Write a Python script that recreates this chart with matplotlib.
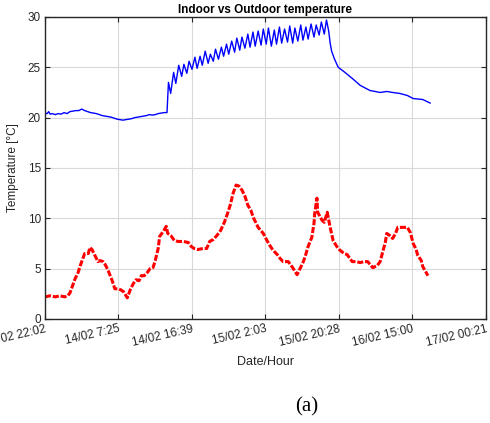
import numpy as np
import matplotlib
matplotlib.use("Agg")
import matplotlib.pyplot as plt

plt.rcParams['font.family'] = ['Liberation Sans', 'DejaVu Sans']

# ---------- data (x = sample index, ticks every 100 samples) ----------
tick_labels = ['13/02 22:02', '14/02 7:25', '14/02 16:39', '15/02 2:03',
               '15/02 20:28', '16/02 15:00', '17/02 00:21']
tick_pos = [0, 100, 200, 300, 400, 500, 600]

indoor_x = [0, 3, 5, 7, 10, 14, 18, 22, 26, 30, 34, 38, 42, 46, 50, 54, 58, 62,
            66, 70, 74, 78, 82, 86, 90, 94, 98, 102, 106, 110, 114, 118, 122,
            126, 130, 134, 138, 142, 146, 150, 154, 158, 162, 166,
            168, 171, 175, 178, 182, 186, 189, 193, 196, 200, 204, 207, 211,
            214, 218, 222, 225, 229, 232, 236, 240, 243, 247, 250, 254, 258,
            261, 265, 268, 272, 276, 279, 283, 286, 290, 294, 297, 301, 304,
            308, 312, 315, 319, 322, 326, 330, 333, 337, 340, 344, 348, 351,
            355, 358, 362, 366, 369, 373, 376, 380, 383, 386,
            388, 390, 394, 399, 408, 418, 429, 442, 456, 465, 473, 483, 493,
            501, 514, 524]
indoor_t = [20.45, 20.4, 20.6, 20.35, 20.4, 20.3, 20.4, 20.35, 20.5, 20.4, 20.6,
            20.65, 20.7, 20.7, 20.85, 20.7, 20.6, 20.5, 20.45, 20.4, 20.3, 20.2,
            20.15, 20.1, 20.05, 19.95, 19.85, 19.8, 19.75, 19.8, 19.85, 19.9,
            20.0, 20.05, 20.1, 20.15, 20.2, 20.3, 20.25, 20.3, 20.4, 20.45,
            20.5, 20.5,
            23.5, 22.4, 24.5, 23.4, 25.2, 24.1, 25.3, 24.4, 25.6, 24.8, 26.0,
            24.9, 26.1, 25.2, 26.6, 25.4, 26.3, 25.6, 26.8, 25.8, 27.0, 26.1,
            27.3, 26.3, 27.6, 26.5, 27.9, 26.7, 28.0, 26.9, 28.3, 27.0, 28.5,
            27.1, 28.6, 27.2, 28.8, 27.3, 28.9, 27.1, 28.7, 27.3, 29.0, 27.4,
            28.8, 27.5, 29.1, 27.4, 28.9, 27.6, 29.2, 27.7, 29.0, 27.8, 29.3,
            28.0, 29.2, 28.2, 29.5, 28.3, 29.7, 28.6,
            27.4, 26.6, 25.8, 25.0, 24.5, 23.9, 23.2, 22.7, 22.5, 22.6, 22.5,
            22.4, 22.2, 21.9, 21.8, 21.45]

outdoor_x = [0, 7, 14, 20, 27, 31, 34, 37, 41, 45, 48, 52, 54, 59, 61, 64, 68,
             72, 75, 79, 82, 86, 91, 95, 99, 103, 107, 112, 116, 120, 124, 128,
             131, 135, 139, 143, 147, 150, 154, 156, 161, 165, 167, 171, 176,
             181, 188, 195, 199, 203, 208, 215, 220, 224, 229, 234, 239, 244,
             248, 252, 256, 260, 264, 268, 272, 276, 280, 284, 290, 297, 302,
             306, 310, 316, 320, 324, 331, 337, 343, 347, 351, 354, 358, 363,
             366, 367, 370, 371, 377, 380, 384, 388, 392, 397, 401, 407, 411,
             418, 423, 429, 434, 439, 446, 452, 456, 460, 463, 465, 469, 473,
             477, 480, 486, 493, 497, 501, 505, 507, 512, 514, 518, 521]
outdoor_t = [2.2, 2.3, 2.2, 2.3, 2.2, 2.3, 2.6, 3.2, 4.0, 4.6, 5.3, 6.1, 6.5,
             6.5, 7.1, 6.9, 6.3, 5.7, 5.8, 5.7, 5.4, 4.8, 3.9, 3.0, 3.0, 2.9,
             2.7, 2.1, 2.9, 3.5, 3.9, 3.8, 4.3, 4.3, 4.6, 5.0, 5.1, 5.8, 7.0,
             8.2, 8.7, 9.2, 8.5, 8.3, 7.8, 7.7, 7.7, 7.6, 7.2, 7.0, 6.9, 7.0,
             7.0, 7.7, 7.9, 8.3, 8.8, 9.6, 10.4, 11.3, 12.5, 13.3, 13.2, 12.8,
             12.2, 11.3, 10.8, 10.0, 9.1, 8.5, 7.8, 7.3, 6.85, 6.4, 6.0, 5.7,
             5.7, 5.1, 4.4, 5.0, 5.6, 6.2, 7.2, 8.1, 9.5, 10.5, 12.0, 10.6,
             9.8, 9.6, 10.6, 9.1, 7.8, 7.2, 6.85, 6.5, 6.4, 5.7, 5.7, 5.6, 5.7,
             5.7, 5.1, 5.3, 5.7, 6.8, 7.6, 8.5, 8.3, 8.0, 8.5, 9.1, 9.1, 9.1,
             8.6, 7.5, 6.9, 6.35, 5.8, 5.2, 4.7, 4.3]

# ---------- plot ----------
fig = plt.figure(figsize=(4.9, 4.23), dpi=100)
ax = fig.add_axes([0.0918, 0.2459, 0.9, 0.714])

ax.plot(indoor_x, indoor_t, color=(0, 0, 1), linewidth=1.0)
ax.plot(outdoor_x, outdoor_t, color=(1, 0, 0), linewidth=2.2,
        linestyle=(0, (2.0, 0.6)))

ax.set_xlim(0, 600)
ax.set_ylim(0, 30)
ax.set_yticks(range(0, 31, 5))
ax.set_xticks(tick_pos)
ax.set_xticklabels(tick_labels, rotation=13, ha='right',
                   rotation_mode='anchor')
ax.grid(True, color=(0.85, 0.85, 0.85), linewidth=0.8)
ax.set_axisbelow(True)
ax.tick_params(direction='in', length=3.5, width=0.8, labelsize=8.5,
               colors=(0.15, 0.15, 0.15), top=True, right=True, pad=3)
for s in ax.spines.values():
    s.set_color((0.15, 0.15, 0.15))
    s.set_linewidth(1.0)

ax.set_title('Indoor vs Outdoor temperature', fontsize=8.5,
             fontweight='bold', pad=3)
ax.set_xlabel('Date/Hour', fontsize=9, color=(0.15, 0.15, 0.15), labelpad=5)
ax.set_ylabel('Temperature [\u00b0C]', fontsize=8.5,
              color=(0.15, 0.15, 0.15), labelpad=6)

fig.text(0.625, 0.015, '(a)', family='Liberation Serif', fontsize=15,
         ha='center', va='bottom')

fig.savefig('out.png', dpi=100)
